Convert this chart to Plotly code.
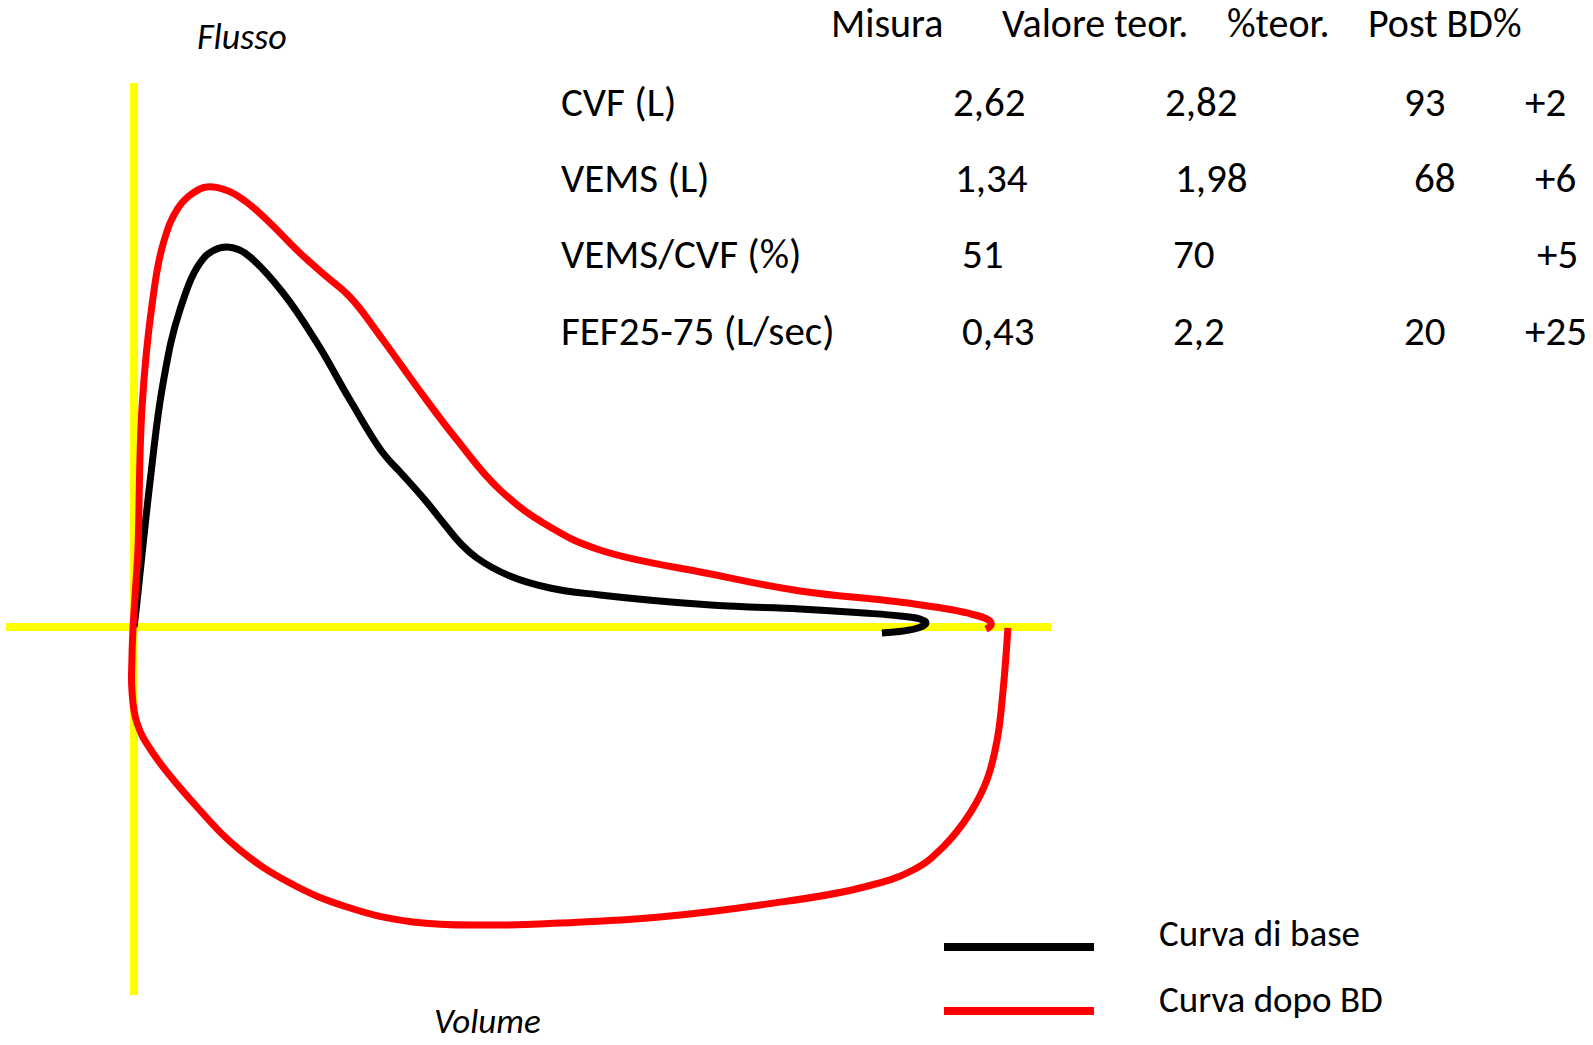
import plotly.graph_objects as go

# Flow-volume loops: volume in litres, flow in L/s
base_volume = [0, 0.007, 0.053, 0.097, 0.153, 0.22, 0.265, 0.31, 0.35, 0.387, 0.497, 0.61, 0.72,
               0.83, 0.887, 0.97, 1.037, 1.087, 1.143, 1.253, 1.387, 1.553, 1.923, 2.22, 2.433,
               2.553, 2.62, 2.64, 2.613, 2.493]
base_flow = [0, 0.227, 1.92, 3.253, 4.227, 4.853, 5.02, 5.067, 5.03, 4.933, 4.453, 3.787, 3.027,
             2.32, 2.067, 1.693, 1.36, 1.12, 0.92, 0.68, 0.52, 0.427, 0.293, 0.24, 0.187,
             0.147, 0.107, 0.053, -0.013, -0.08]

post_volume = [2.913, 2.897, 2.877, 2.843, 2.787, 2.697, 2.597, 2.42, 2.087, 1.753, 1.42,
               1.21, 0.93, 0.71, 0.52, 0.353, 0.21, 0.063, 0.01, -0.007, -0.007, -0.003,
               0.007, 0.013, 0.027, 0.06, 0.097, 0.147, 0.197, 0.243, 0.31, 0.37, 0.443, 0.553,
               0.643, 0.72, 0.83, 0.943, 1.077, 1.22, 1.387, 1.553, 1.923, 2.22, 2.553, 2.777,
               2.853, 2.857, 2.84]
post_flow = [-0.013, -0.84, -1.507, -2.04, -2.48, -2.933, -3.24, -3.48, -3.707, -3.867, -3.947,
             -3.973, -3.933, -3.733, -3.413, -2.973, -2.4, -1.68, -1.28, -0.84, -0.44, 0,
             0.627, 1.027, 2.947, 4.293, 5.107, 5.587, 5.787, 5.867, 5.82, 5.68, 5.427, 4.987,
             4.667, 4.4, 3.827, 3.2, 2.493, 1.827, 1.333, 1.027, 0.707, 0.48, 0.333, 0.187,
             0.08, 0.027, -0.027]

# Spirometry table
headers = ["Misura", "Valore teor.", "%teor.", "Post BD%"]
row_labels = ["CVF (L)", "VEMS (L)", "VEMS/CVF (%)", "FEF25-75 (L/sec)"]
misura = ["2,62", "1,34", "51", "0,43"]
teorico = ["2,82", "1,98", "70", "2,2"]
perc_teor = ["93", "68", "", "20"]
post_bd = ["+2", "+6", "+5", "+25"]

legend_labels = ["Curva di base", "Curva dopo BD"]
series_colors = ["#000000", "#ff0000"]

W, H = 1593, 1045
X0, Y0 = 134, 627          # pixel position of the origin
KX, KY = 300.0, 75.0       # pixels per litre / per L/s

FONT = "Carlito, Calibri, Lato, sans-serif"

fig = go.Figure()
fig.add_trace(go.Scatter(x=base_volume, y=base_flow, mode="lines",
                         line=dict(color=series_colors[0], width=7, shape="spline", smoothing=1.2),
                         showlegend=False, hoverinfo="skip"))
fig.add_trace(go.Scatter(x=post_volume, y=post_flow, mode="lines",
                         line=dict(color=series_colors[1], width=7, shape="spline", smoothing=1.2),
                         showlegend=False, hoverinfo="skip"))

def px_x(p):
    return p / W

def px_y(p):
    return 1 - p / H

shapes = [
    # yellow flow axis
    dict(type="line", xref="x", yref="y", x0=0, x1=0, y0=(Y0 - 83) / KY, y1=(Y0 - 995) / KY,
         line=dict(color="#ffff00", width=8), layer="below"),
    # yellow volume axis
    dict(type="line", xref="x", yref="y", x0=(6 - X0) / KX, x1=(1051 - X0) / KX, y0=0, y1=0,
         line=dict(color="#ffff00", width=8), layer="below"),
]
for i, yy in enumerate([947, 1011]):
    shapes.append(dict(type="line", xref="paper", yref="paper", x0=px_x(944), x1=px_x(1094),
                       y0=px_y(yy), y1=px_y(yy), line=dict(color=series_colors[i], width=8)))

annotations = []

def text(s, x, y, size, anchor="center", italic=False):
    annotations.append(dict(text=s, x=px_x(x), y=px_y(y), xref="paper", yref="paper",
                            xanchor=anchor, yanchor="middle", showarrow=False,
                            font=dict(family=FONT, size=size, color="#000000",
                                      style="italic" if italic else "normal")))

text("Flusso", 242, 37, 36, italic=True)
text("Volume", 488, 1021, 35, italic=True)

header_x = [887, 1095, 1278, 1445]
for h, hx in zip(headers, header_x):
    text(h, hx, 23, 40)

row_y = [102, 178, 254, 331]
col_x = [[989, 1201, 1425, 1545],
         [991, 1211, 1435, 1555],
         [983, 1194, 1425, 1557],
         [998, 1199, 1425, 1556]]
for r, label in enumerate(row_labels):
    text(label, 559, row_y[r], 41, anchor="left")
    for c, val in enumerate([misura[r], teorico[r], perc_teor[r], post_bd[r]]):
        if val:
            text(val, col_x[r][c], row_y[r], 41)

text(legend_labels[0], 1157, 933, 37, anchor="left")
text(legend_labels[1], 1157, 999, 37, anchor="left")

fig.update_layout(
    width=W, height=H, margin=dict(l=0, r=0, t=0, b=0),
    paper_bgcolor="white", plot_bgcolor="white",
    xaxis=dict(range=[-X0 / KX, (W - X0) / KX], visible=False, fixedrange=True),
    yaxis=dict(range=[-(H - Y0) / KY, Y0 / KY], visible=False, fixedrange=True),
    shapes=shapes, annotations=annotations,
)

fig.write_html("out.html")
